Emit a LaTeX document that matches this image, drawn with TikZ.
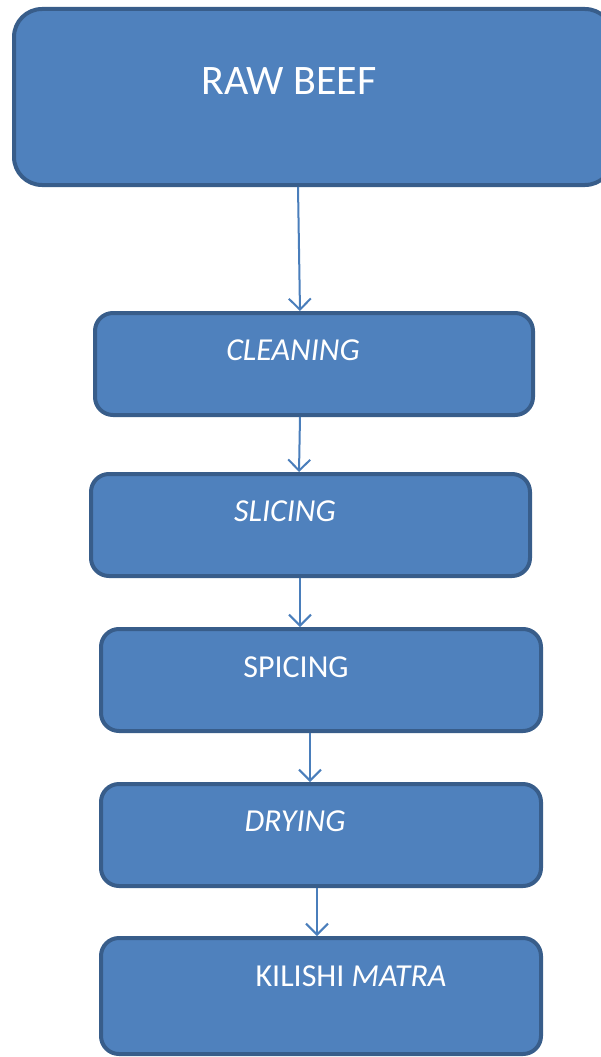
\documentclass[tikz,border=0pt]{standalone}
\usepackage{fontspec}
\setmainfont{Carlito}
\usetikzlibrary{arrows.meta}
\definecolor{boxfill}{HTML}{4F81BD}
\definecolor{boxline}{HTML}{385D8A}
\definecolor{arrowc}{HTML}{4A7EBB}
\tikzset{
  stepbox/.style={draw=boxline, fill=boxfill, line width=4pt, rounded corners=18pt, rectangle, inner sep=0pt},
  lbl/.style={text=white, inner sep=0pt, font=\fontsize{32}{38}\selectfont},
  conn/.style={draw=arrowc, line width=2pt, -{Straight Barb[length=11pt,width=22pt,line width=2pt]}}
}
\begin{document}
\begin{tikzpicture}[x=1pt,y=-1pt]
\useasboundingbox (0,0) rectangle (601,1057);
\clip (0,0) rectangle (601,1057);
\node[stepbox, rounded corners=28pt, minimum width=599pt, minimum height=176pt] (b1) at (313.5,97) {};
\node[stepbox, minimum width=438pt, minimum height=102pt] (b2) at (314,364) {};
\node[stepbox, minimum width=439pt, minimum height=102pt] (b3) at (310.5,525) {};
\node[stepbox, minimum width=440pt, minimum height=102pt] (b4) at (321,680) {};
\node[stepbox, minimum width=440pt, minimum height=102pt] (b5) at (321,835) {};
\node[stepbox, minimum width=440pt, minimum height=116pt] (b6) at (321,996) {};
\node[lbl, font=\fontsize{42}{50}\selectfont] (t1) at (289,81) {RAW BEEF};
\node[lbl] (t2) at (293,350) {\itshape CLEANING};
\node[lbl] (t3) at (285,511) {\itshape SLICING};
\node[lbl] (t4) at (296,667) {SPICING};
\node[lbl] (t5) at (295,821) {\itshape DRYING};
\node[lbl] (t6) at (351,976) {KILISHI \itshape MATRA};
\draw[conn] ([xshift=-15.5pt]b1.south) -- ([xshift=-14pt]b2.north);
\draw[conn] ([xshift=-14pt]b2.south) -- ([xshift=-11.5pt]b3.north);
\draw[conn] ([xshift=-10.5pt]b3.south) -- ([xshift=-21pt]b4.north);
\draw[conn] ([xshift=-11pt]b4.south) -- ([xshift=-11pt]b5.north);
\draw[conn] ([xshift=-4pt]b5.south) -- ([xshift=-4pt]b6.north);
\end{tikzpicture}
\end{document}
